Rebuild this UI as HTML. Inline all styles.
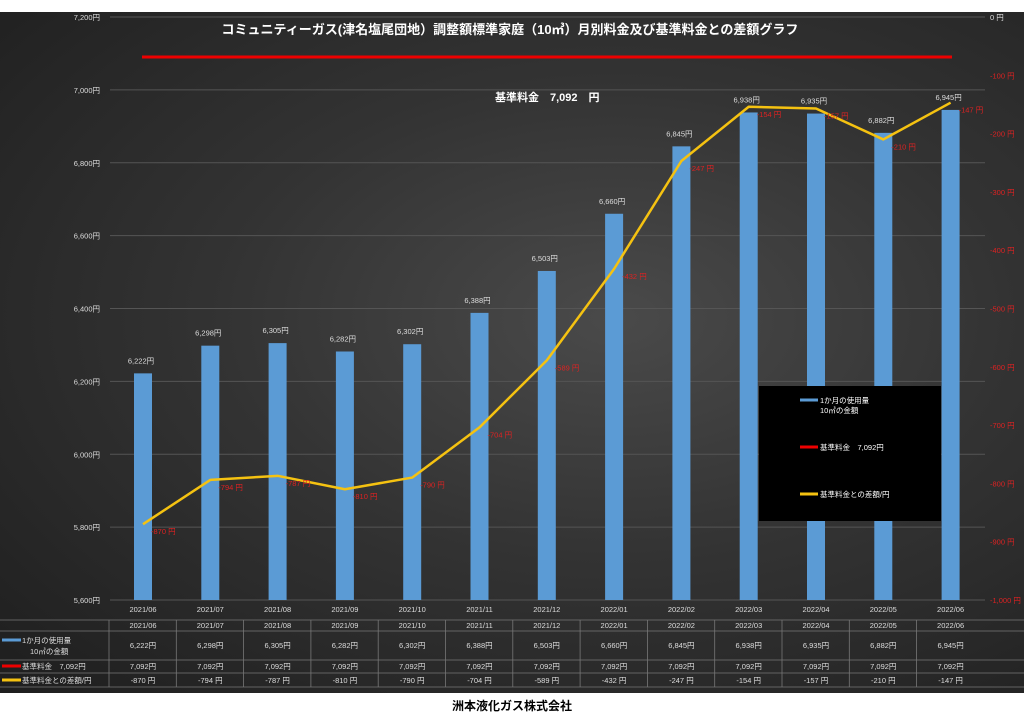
<!DOCTYPE html>
<html><head><meta charset="utf-8"><style>
html,body{margin:0;padding:0;background:#fff;width:1024px;height:724px;overflow:hidden;font-family:"Liberation Sans","Noto Sans CJK JP",sans-serif}
#bg{position:absolute;left:0;top:12px;width:1024px;height:681px;background:radial-gradient(ellipse at 60% 45%,#4a4a4a 0%,#333 45%,#1e1e1e 100%)}
</style></head><body>
<div id="bg"></div>
<svg id="chart" width="1024" height="724" style="position:absolute;left:0;top:0"></svg>
<div style="position:absolute;left:0;top:697px;width:1024px;text-align:center;font-size:12px;font-weight:bold;color:#000">洲本液化ガス株式会社</div>
<script>
const categories=["2021/06","2021/07","2021/08","2021/09","2021/10","2021/11","2021/12","2022/01","2022/02","2022/03","2022/04","2022/05","2022/06"];
const monthly=[6222,6298,6305,6282,6302,6388,6503,6660,6845,6938,6935,6882,6945];
const standard=[7092,7092,7092,7092,7092,7092,7092,7092,7092,7092,7092,7092,7092];
const diff=[-870,-794,-787,-810,-790,-704,-589,-432,-247,-154,-157,-210,-147];
const leftTicks=[5600,5800,6000,6200,6400,6600,6800,7000,7200];
const rightTicks=[0,-100,-200,-300,-400,-500,-600,-700,-800,-900,-1000];
const NS="http://www.w3.org/2000/svg";
const svg=document.getElementById('chart');
function mk(t,a,txt){const e=document.createElementNS(NS,t);for(const k in a)e.setAttribute(k,a[k]);if(txt!==undefined)e.textContent=txt;svg.appendChild(e);return e;}
const fmt=v=>v.toLocaleString('en-US');
const yTop=17,yBot=600,x0=110,step=67.3,cx0=143;
const yL=v=>yBot-(v-5600)/1600*(yBot-yTop);
const yR=v=>yTop+(-v)/1000*(yBot-yTop);
const xC=i=>cx0+i*step;
leftTicks.forEach(v=>{
 const g=mk('line',{x1:x0,x2:985,y1:yL(v),y2:yL(v),stroke:'#555','stroke-width':1});
 
 
 const t=mk('text',{x:100,y:yL(v)+3,'text-anchor':'end','font-size':7.5,fill:'#ddd'},fmt(v)+'円');
 
 
});
rightTicks.forEach(v=>{
 const t=mk('text',{x:990,y:yR(v)+3,'font-size':7.5,fill:v===0?'#ddd':'#d22'},fmt(v)+' 円');
 
 
});
let t=mk('text',{x:510,y:34,'text-anchor':'middle','font-size':13,'font-weight':'bold',fill:'#fff'},'コミュニティーガス(津名塩尾団地）調整額標準家庭（10㎥）月別料金及び基準料金との差額グラフ');


let l=mk('line',{x1:142,x2:952,y1:57,y2:57,stroke:'#e00','stroke-width':3});


t=mk('text',{x:495,y:101,'font-size':11,'font-weight':'bold',fill:'#fff'},'基準料金　'+fmt(standard[0])+'　円');


monthly.forEach((v,i)=>{
 const b=mk('rect',{x:xC(i)-9,y:yL(v),width:18,height:yBot-yL(v),fill:'#5b9bd5'});
 
 
 const lb=mk('text',{x:xC(i)-2,y:yL(v)-10,'text-anchor':'middle','font-size':7.5,fill:'#ddd'},fmt(v)+'円');
 
 
 const xl=mk('text',{x:xC(i),y:612,'text-anchor':'middle','font-size':7.5,fill:'#ddd'},categories[i]);
 
 
});
const pts=diff.map((v,i)=>xC(i)+','+yR(v)).join(' ');
l=mk('polyline',{points:pts,fill:'none',stroke:'#f5c211','stroke-width':2.5,'stroke-linejoin':'round'});


diff.forEach((v,i)=>{
 const lb=mk('text',{x:xC(i)+8,y:yR(v)+10,'font-size':7.5,fill:'#d22'},fmt(v)+' 円');
 
 
});
let r=mk('rect',{x:759,y:386,width:182,height:135,fill:'#000'});


[[400,'#5b9bd5','1か月の使用量'],[447,'#e00','基準料金　7,092円'],[494,'#f5c211','基準料金との差額/円']].forEach(d=>{
 const s=mk('line',{x1:800,x2:818,y1:d[0],y2:d[0],stroke:d[1],'stroke-width':3});
 
 
 const tx=mk('text',{x:820,y:d[0]+3,'font-size':7.5,fill:'#fff'},d[2]);
 
 
});
t=mk('text',{x:820,y:413,'font-size':7.5,fill:'#fff'},'10㎥の金額');


const rows=[620,631,660,673,687];
rows.forEach(y=>{
 const g=mk('line',{x1:0,x2:1024,y1:y,y2:y,stroke:'#777','stroke-width':0.8});
 
 
});
for(let i=0;i<13;i++){
 const x=cx0-34+i*step;
 const g=mk('line',{x1:x,x2:x,y1:620,y2:687,stroke:'#777','stroke-width':0.8});
 
 
}
const rowData=[categories,monthly.map(v=>fmt(v)+'円'),standard.map(v=>fmt(v)+'円'),diff.map(v=>v+' 円')];
const rowY=[628,648,669,683];
rowData.forEach((arr,ri)=>arr.forEach((s,i)=>{
 const c=mk('text',{x:xC(i),y:rowY[ri],'text-anchor':'middle','font-size':7.5,fill:'#ddd'},s);
 
 
}));
[[642,'#5b9bd5','1か月の使用量'],[668,'#e00','基準料金　7,092円'],[682,'#f5c211','基準料金との差額/円']].forEach(d=>{
 const s=mk('line',{x1:2,x2:21,y1:d[0]-2,y2:d[0]-2,stroke:d[1],'stroke-width':3});
 
 
 const tx=mk('text',{x:22,y:d[0]+1,'font-size':7.5,fill:'#ddd'},d[2]);
 
 
});
t=mk('text',{x:30,y:654,'font-size':7.5,fill:'#ddd'},'10㎥の金額');


</script>
</body></html>
